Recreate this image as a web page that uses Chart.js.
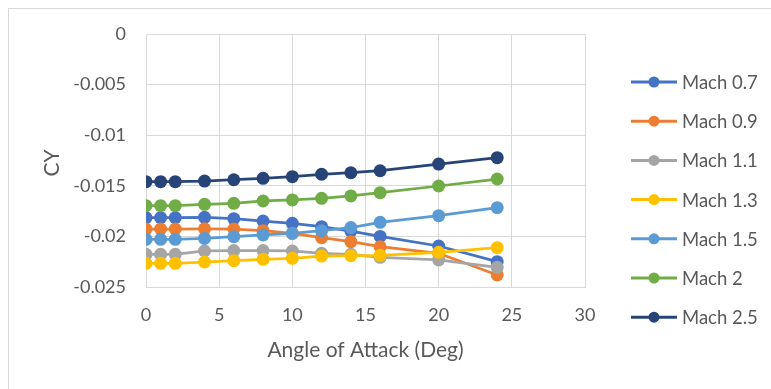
<!DOCTYPE html>
<html>
<head>
<meta charset="utf-8">
<script src="https://cdn.jsdelivr.net/npm/chart.js@4/dist/chart.umd.min.js"></script>
<style>
  html, body { margin: 0; padding: 0; background: #fff; overflow: hidden; }
  #wrap { position: relative; width: 771px; height: 389px; }
  #frame { position: absolute; left: 8px; top: 8px; width: 800px; height: 400px; border: 1px solid #d9d9d9; box-sizing: border-box; }
  canvas { position: absolute; left: 0; top: 0; }
</style>
</head>
<body>
<div id="wrap">
  <div id="frame"></div>
  <canvas id="chartCY" width="771" height="389"></canvas>
</div>
<script>
// angle of attack (deg)
const alpha = [0, 1, 2, 4, 6, 8, 10, 12, 14, 16, 20, 24];

const mach07 = [-0.01815, -0.01815, -0.01815, -0.01812, -0.01825, -0.01848, -0.01871, -0.01904, -0.01947, -0.02000, -0.02095, -0.02250];
const mach09 = [-0.01927, -0.01927, -0.01927, -0.01925, -0.01927, -0.01943, -0.01970, -0.02013, -0.02052, -0.02102, -0.02167, -0.02381];
const mach11 = [-0.02177, -0.02177, -0.02177, -0.02144, -0.02140, -0.02140, -0.02144, -0.02167, -0.02177, -0.02207, -0.02233, -0.02306];
const mach13 = [-0.02266, -0.02266, -0.02266, -0.02253, -0.02240, -0.02227, -0.02217, -0.02194, -0.02190, -0.02187, -0.02157, -0.02111];
const mach15 = [-0.02029, -0.02029, -0.02029, -0.02020, -0.02003, -0.01986, -0.01970, -0.01943, -0.01913, -0.01861, -0.01795, -0.01716];
const mach20 = [-0.01696, -0.01696, -0.01696, -0.01683, -0.01673, -0.01650, -0.01640, -0.01624, -0.01600, -0.01568, -0.01502, -0.01433];
const mach25 = [-0.01459, -0.01459, -0.01459, -0.01453, -0.01440, -0.01426, -0.01410, -0.01386, -0.01371, -0.01351, -0.01285, -0.01222];

const seriesNames = ['Mach 0.7', 'Mach 0.9', 'Mach 1.1', 'Mach 1.3', 'Mach 1.5', 'Mach 2', 'Mach 2.5'];
const seriesValues = [mach07, mach09, mach11, mach13, mach15, mach20, mach25];
const seriesColors = ['#4472C4', '#ED7D31', '#A5A5A5', '#FFC000', '#5B9BD5', '#70AD47', '#264478'];

const xTicks = [0, 5, 10, 15, 20, 25, 30];
const yTicks = [0, -0.005, -0.01, -0.015, -0.02, -0.025];

const FONT = 'Lato';
const TEXT_COLOR = '#595959';
const GRID_COLOR = '#d9d9d9';

const datasets = seriesNames.map((name, i) => ({
  label: name,
  data: alpha.map((a, j) => ({ x: a, y: seriesValues[i][j] })),
  borderColor: seriesColors[i],
  backgroundColor: seriesColors[i],
  borderWidth: 2.75,
  pointRadius: 6.5,
  pointBorderWidth: 0,
  pointHoverRadius: 6.5,
  tension: 0,
  order: seriesNames.length - i
}));

// axis titles + legend drawn by hand to sit like the excel chart
const extrasPlugin = {
  id: 'extras',
  afterDraw(chart) {
    const ctx = chart.ctx;
    const area = chart.chartArea;
    ctx.save();
    ctx.fillStyle = TEXT_COLOR;
    ctx.font = `21px ${FONT}`;
    ctx.textAlign = 'center';
    ctx.textBaseline = 'middle';
    ctx.fillText('Angle of Attack (Deg)', (area.left + area.right) / 2, 350);

    ctx.save();
    ctx.translate(52, 163);
    ctx.rotate(-Math.PI / 2);
    ctx.fillText('CY', 0, 0);
    ctx.restore();

    // legend
    ctx.font = `18.5px ${FONT}`;
    ctx.textAlign = 'left';
    seriesNames.forEach((name, i) => {
      const y = 82 + i * 39.2;
      ctx.strokeStyle = seriesColors[i];
      ctx.lineWidth = 3;
      ctx.beginPath();
      ctx.moveTo(631, y);
      ctx.lineTo(677, y);
      ctx.stroke();
      ctx.fillStyle = seriesColors[i];
      ctx.beginPath();
      ctx.arc(654, y, 5.5, 0, Math.PI * 2);
      ctx.fill();
      ctx.fillStyle = TEXT_COLOR;
      ctx.fillText(name, 682, y + 1);
    });
    ctx.restore();
  }
};

new Chart(document.getElementById('chartCY'), {
  type: 'line',
  data: { datasets },
  plugins: [extrasPlugin],
  options: {
    responsive: false,
    animation: false,
    events: [],
    layout: { padding: { left: 0, top: 34, right: 186, bottom: 0 } },
    plugins: {
      legend: { display: false },
      tooltip: { enabled: false },
      title: { display: false }
    },
    scales: {
      x: {
        type: 'linear',
        min: 0,
        max: 30,
        afterBuildTicks: scale => { scale.ticks = xTicks.map(v => ({ value: v })); },
        afterFit: scale => { scale.height = 389 - 287; },
        ticks: {
          color: TEXT_COLOR,
          font: { family: FONT, size: 18 },
          padding: 17,
          maxRotation: 0
        },
        grid: { color: GRID_COLOR, drawTicks: false, lineWidth: 1 },
        border: { color: GRID_COLOR }
      },
      y: {
        type: 'linear',
        min: -0.025,
        max: 0,
        afterBuildTicks: scale => { scale.ticks = yTicks.map(v => ({ value: v })); },
        afterFit: scale => { scale.width = 146; },
        ticks: {
          color: TEXT_COLOR,
          font: { family: FONT, size: 18 },
          padding: 20,
          callback: v => String(+v.toFixed(3))
        },
        grid: { color: GRID_COLOR, drawTicks: false, lineWidth: 1 },
        border: { color: GRID_COLOR }
      }
    }
  }
});
</script>
</body>
</html>
